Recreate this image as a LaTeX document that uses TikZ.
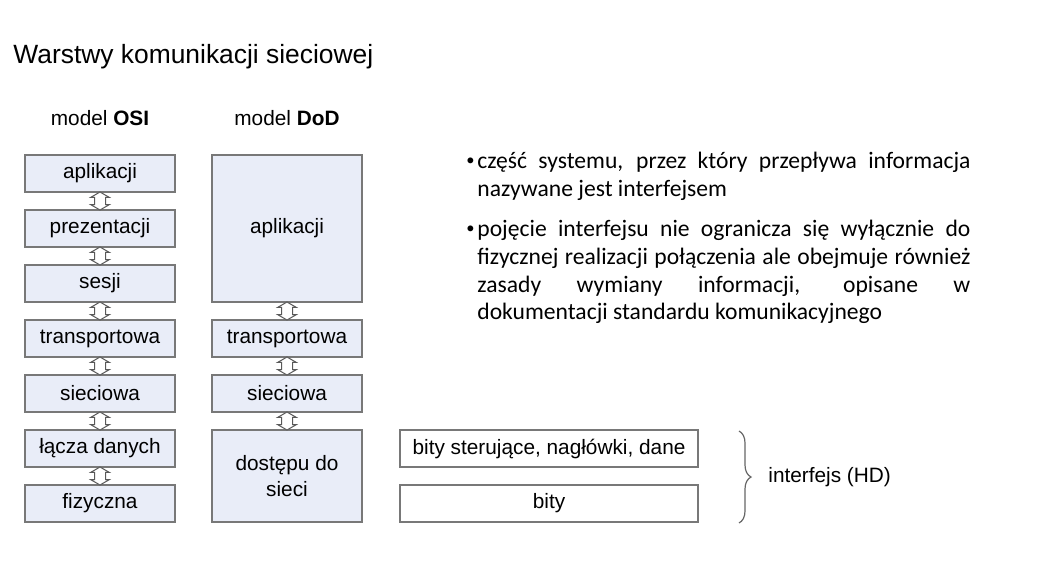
\documentclass[tikz,border=0pt]{standalone}
\usepackage{fontspec}
\setmainfont{Liberation Sans}
\newfontfamily\bodyfont{Carlito}
\usetikzlibrary{shapes.arrows,decorations.pathreplacing,calc}
\definecolor{layerfill}{RGB}{233,237,248}
\definecolor{layerline}{RGB}{120,120,120}
\tikzset{
  layer/.style={draw=layerline,fill=layerfill,line width=0.7pt,minimum width=75pt,minimum height=18.5pt,inner sep=0pt,font=\fontsize{10.4}{13}\selectfont},
  wirebox/.style={layer,fill=white,minimum width=149pt},
  updown/.style={double arrow,rotate=90,draw=black!65,fill=white,line width=0.5pt,minimum height=9pt,inner sep=2.5pt,double arrow head extend=2pt,double arrow tip angle=120},
  caption/.style={inner sep=0pt,font=\fontsize{10.4}{13}\selectfont},
  bullets/.style={inner sep=0pt,anchor=north west,align=left,font=\bodyfont\fontsize{11.8}{13.85}\selectfont}
}
\newcommand\jline[1]{\makebox[246.5pt][s]{#1}}
\newcommand\dotmark{\makebox[5.5pt][l]{\raisebox{0.25ex}{\scalebox{0.7}{•}}}}
\begin{document}
\begin{tikzpicture}[x=0.5pt,y=-0.5pt]
\useasboundingbox (0,0) rectangle (1043,585);
\node[caption,anchor=west,font=\fontsize{13.2}{16}\selectfont] (title) at (13,57) {Warstwy komunikacji sieciowej};
\node[caption] (hosi) at (100,118) {model \textbf{OSI}};
\node[caption] (hdod) at (287,118) {model \textbf{DoD}};
% model OSI
\node[layer] (o1) at (100,173.5) {aplikacji};
\node[layer] (o2) at (100,228.5) {prezentacji};
\node[layer] (o3) at (100,283.5) {sesji};
\node[layer] (o4) at (100,338.5) {transportowa};
\node[layer] (o5) at (100,393.5) {sieciowa};
\node[layer] (o6) at (100,448.5) {łącza danych};
\node[layer] (o7) at (100,503.5) {fizyczna};
% model DoD
\node[layer,minimum height=73.5pt] (d1) at (287,228.5) {aplikacji};
\node[layer] (d2) at (287,338.5) {transportowa};
\node[layer] (d3) at (287,393.5) {sieciowa};
\node[layer,minimum height=46pt,align=center] (d4) at (287,476) {dostępu do\\sieci};
\foreach \a/\b in {o1/o2,o2/o3,o3/o4,o4/o5,o5/o6,o6/o7,d1/d2,d2/d3,d3/d4}
  \node[updown] (\a\b) at ($(\a.south)!0.5!(\b.north)$) {};
% interfejs
\node[wirebox] (w1) at (549,448.5) {bity sterujące, nagłówki, dane};
\node[wirebox] (w2) at (549,503.5) {bity};
\coordinate (bt) at (739,431);
\coordinate (bb) at (739,523);
\draw[decorate,decoration={brace,amplitude=6pt},draw=black!60,line width=0.6pt] (bt) -- (bb);
\node[caption,anchor=west] (hd) at (768,477) {interfejs (HD)};
% opis
\node[bullets] (t1) at (466,152) {\dotmark\jline{część systemu, przez który przepływa informacja}\\
\hspace*{5.5pt}nazywane jest interfejsem};
\node[bullets] (t2) at (466,220) {\dotmark\jline{pojęcie interfejsu nie ogranicza się wyłącznie do}\\
\hspace*{5.5pt}\jline{fizycznej realizacji połączenia ale obejmuje również}\\
\hspace*{5.5pt}\jline{zasady wymiany informacji, opisane w}\\
\hspace*{5.5pt}dokumentacji standardu komunikacyjnego};
\end{tikzpicture}
\end{document}
